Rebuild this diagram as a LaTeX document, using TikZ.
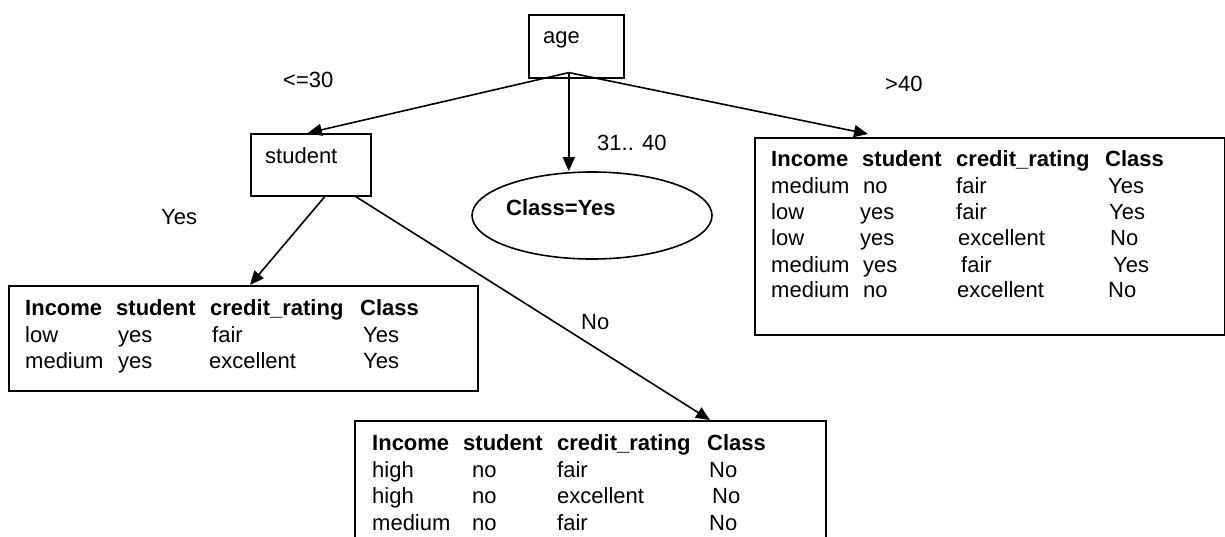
\documentclass[tikz,border=0pt]{standalone}
\usepackage{fontspec}
\setmainfont{Liberation Sans}
\usetikzlibrary{arrows.meta,shapes.geometric,calc}
\tikzset{
  box/.style={draw=black, line width=1.6pt, rectangle, inner sep=0pt, anchor=north west},
  oval/.style={draw=black, line width=1.6pt, ellipse, inner sep=0pt},
  txt/.style={inner sep=0pt, anchor=base west, font=\fontsize{22}{26}\selectfont},
  hdr/.style={txt, font=\fontsize{22}{26}\selectfont\bfseries},
  conn/.style={line width=1.6pt, -{Triangle[length=14pt,width=12pt]}}
}
\begin{document}
\begin{tikzpicture}[x=1pt,y=-1pt]
\useasboundingbox (0,0) rectangle (1225,536);

% tree nodes
\node[box, minimum width=95pt, minimum height=63pt] (age) at (528,14) {};
\node[txt] (agetxt) at (543,43) {age};
\node[box, minimum width=120pt, minimum height=62pt] (student) at (250,133) {};
\node[txt] (studenttxt) at (265,163) {student};
\node[oval, minimum width=240pt, minimum height=87pt] (leaf) at (592,215.5) {};
\node[hdr] (leaftxt) at (506,215) {Class=Yes};

% table boxes
\node[box, minimum width=469pt, minimum height=105pt] (tleft) at (8,285) {};
\node[box, minimum width=470pt, minimum height=197pt] (tright) at (754,137) {};
\node[box, minimum width=471pt, minimum height=140pt] (tbottom) at (354,420) {};

% left table
\foreach \x/\t [count=\k] in {25/Income, 116/student, 210/credit\_rating, 360/Class}
  \node[hdr] (L-h-\k) at (\x,315) {\t};
\foreach \x/\t [count=\k] in {25/low, 118/yes, 212/fair, 363/Yes}
  \node[txt] (L-a-\k) at (\x,342) {\t};
\foreach \x/\t [count=\k] in {25/medium, 118/yes, 209/excellent, 363/Yes}
  \node[txt] (L-b-\k) at (\x,368) {\t};

% right table
\foreach \x/\t [count=\k] in {771/Income, 862/student, 956/credit\_rating, 1105/Class}
  \node[hdr] (R-h-\k) at (\x,166) {\t};
\foreach \x/\t [count=\k] in {771/medium, 863/no, 956/fair, 1108/Yes}
  \node[txt] (R-a-\k) at (\x,193) {\t};
\foreach \x/\t [count=\k] in {771/low, 860/yes, 956/fair, 1109/Yes}
  \node[txt] (R-b-\k) at (\x,219) {\t};
\foreach \x/\t [count=\k] in {771/low, 860/yes, 958/excellent, 1110/No}
  \node[txt] (R-c-\k) at (\x,245) {\t};
\foreach \x/\t [count=\k] in {771/medium, 863/yes, 961/fair, 1113/Yes}
  \node[txt] (R-d-\k) at (\x,272) {\t};
\foreach \x/\t [count=\k] in {771/medium, 863/no, 957/excellent, 1108/No}
  \node[txt] (R-e-\k) at (\x,297) {\t};

% bottom table
\foreach \x/\t [count=\k] in {372/Income, 463/student, 557/credit\_rating, 707/Class}
  \node[hdr] (B-h-\k) at (\x,450) {\t};
\foreach \x/\t [count=\k] in {372/high, 472/no, 557/fair, 709/No}
  \node[txt] (B-a-\k) at (\x,477) {\t};
\foreach \x/\t [count=\k] in {372/high, 472/no, 557/excellent, 712/No}
  \node[txt] (B-b-\k) at (\x,503) {\t};
\foreach \x/\t [count=\k] in {372/medium, 472/no, 557/fair, 709/No}
  \node[txt] (B-c-\k) at (\x,530) {\t};

% edge labels
\node[txt] (l30) at (283,87) {<=30};
\node[txt] (l3140) at (597,150) {31.. 40};
\node[txt] (l40) at (885,91) {>40};
\node[txt] (lyes) at (161,224) {Yes};
\node[txt] (lno) at (581,329) {No};

% connectors
\coordinate (fork) at ($(age.south)+(-7.5,-6)$);
\coordinate (sfork1) at ($(student.south)+(14,0)$);
\coordinate (sfork2) at ($(student.south)+(45,0)$);
\draw[conn] (fork) -- ($(student.north)+(-3,0)$);
\draw[conn] (fork) -- (fork |- leaf.north);
\draw[conn] (fork) -- ($(tright.north west)+(114,-3)$);
\draw[conn] (sfork1) -- ($(tleft.north west)+(242,0)$);
\draw[conn] (sfork2) -- ($(tbottom.north west)+(356,0)$);
\end{tikzpicture}
\end{document}
